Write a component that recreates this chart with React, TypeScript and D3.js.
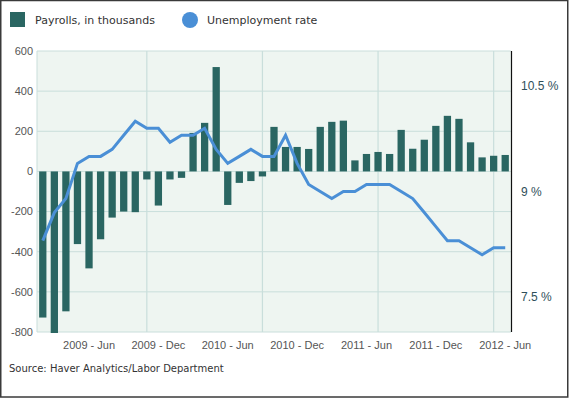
import React from "react";
import * as d3 from "d3";

const months: string[] = [
  "2009-02","2009-03","2009-04","2009-05","2009-06","2009-07","2009-08","2009-09","2009-10","2009-11","2009-12",
  "2010-01","2010-02","2010-03","2010-04","2010-05","2010-06","2010-07","2010-08","2010-09","2010-10","2010-11","2010-12",
  "2011-01","2011-02","2011-03","2011-04","2011-05","2011-06","2011-07","2011-08","2011-09","2011-10","2011-11","2011-12",
  "2012-01","2012-02","2012-03","2012-04","2012-05","2012-06",
];

const payrolls: number[] = [
  -728, -805, -697, -362, -483, -338, -230, -200, -203, -40, -170,
  -40, -32, 192, 242, 520, -167, -57, -48, -25, 222, 122, 122,
  112, 222, 247, 253, 55, 87, 97, 87, 207, 113, 158, 227,
  277, 262, 145, 70, 78, 82,
];

const unemployment: number[] = [
  8.3, 8.7, 8.9, 9.4, 9.5, 9.5, 9.6, 9.8, 10.0, 9.9, 9.9,
  9.7, 9.8, 9.8, 9.9, 9.6, 9.4, 9.5, 9.6, 9.5, 9.5, 9.8, 9.4,
  9.1, 9.0, 8.9, 9.0, 9.0, 9.1, 9.1, 9.1, 9.0, 8.9, 8.7, 8.5,
  8.3, 8.3, 8.2, 8.1, 8.2, 8.2,
];

const leftTicks: number[] = [600, 400, 200, 0, -200, -400, -600, -800];
const rightTicks: number[] = [10.5, 9, 7.5];
const xTickMonths: string[] = ["2009-06", "2009-12", "2010-06", "2010-12", "2011-06", "2011-12", "2012-06"];
const xTickLabels: string[] = ["2009 - Jun", "2009 - Dec", "2010 - Jun", "2010 - Dec", "2011 - Jun", "2011 - Dec", "2012 - Jun"];
const vGridMonths: string[] = ["2009-11", "2010-09", "2011-07", "2012-05"];

const W = 569;
const H = 398;
const plot = { left: 37, right: 511, top: 51, bottom: 332 };

export default function App() {
  const x = d3.scaleBand<string>().domain(months).range([plot.left, plot.right]).paddingInner(0.37).paddingOuter(0.185);
  const xc = (m: string) => (x(m) as number) + x.bandwidth() / 2;
  const yL = d3.scaleLinear().domain([-800, 600]).range([plot.bottom, plot.top]);
  const yR = d3.scaleLinear().domain([7, 11]).range([plot.bottom, plot.top]);
  const line = d3
    .line<number>()
    .x((_, i) => xc(months[i]))
    .y((d) => yR(d));

  const gridColor = "#c9dedb";
  const barColor = "#2a6662";
  const lineColor = "#4a8fd6";
  const sans = "Liberation Sans, Arial, sans-serif";
  const verd = "DejaVu Sans, Verdana, sans-serif";

  return (
    <svg width={W} height={H} style={{ display: "block", position: "absolute", left: 0, top: 0 }}>
      <rect x={0} y={0} width={W} height={H} fill="#fff" />
      <rect x={0.75} y={0.5} width={W - 2} height={H - 1.5} fill="none" stroke="#3a3a3a" strokeWidth={1.5} />

      {/* legend */}
      <rect x={10} y={12} width={15} height={15} fill={barColor} />
      <text x={35} y={24} fontFamily={verd} fontSize={11} fill="#333">Payrolls, in thousands</text>
      <circle cx={190} cy={20} r={8} fill={lineColor} />
      <text x={207} y={24} fontFamily={verd} fontSize={11} fill="#333">Unemployment rate</text>

      {/* plot background */}
      <rect x={plot.left} y={plot.top} width={plot.right - plot.left} height={plot.bottom - plot.top} fill="#eef5f1" />
      {leftTicks.map((t) => (
        <line key={"h" + t} x1={plot.left} x2={plot.right} y1={yL(t)} y2={yL(t)} stroke={gridColor} strokeWidth={1} />
      ))}
      <line x1={plot.left} x2={plot.left} y1={plot.top} y2={plot.bottom} stroke={gridColor} />
      {vGridMonths.map((m) => (
        <line key={"v" + m} x1={xc(m)} x2={xc(m)} y1={plot.top} y2={plot.bottom} stroke={gridColor} strokeWidth={1.2} />
      ))}

      {/* bars */}
      {payrolls.map((v, i) => (
        <rect
          key={"b" + i}
          x={x(months[i])}
          width={x.bandwidth()}
          y={Math.min(yL(v), yL(0))}
          height={Math.abs(yL(v) - yL(0))}
          fill={barColor}
        />
      ))}

      {/* line */}
      <path d={line(unemployment) || ""} fill="none" stroke={lineColor} strokeWidth={3} strokeLinejoin="miter" />

      {/* right axis line */}
      <line x1={plot.right + 0.5} x2={plot.right + 0.5} y1={plot.top} y2={plot.bottom} stroke="#111" strokeWidth={1.2} />

      {/* left ticks */}
      {leftTicks.map((t) => (
        <text key={"lt" + t} x={33} y={yL(t)} dy="0.35em" textAnchor="end" fontFamily={sans} fontSize={11} fill="#555">
          {t}
        </text>
      ))}
      {/* right ticks */}
      {rightTicks.map((t) => (
        <text key={"rt" + t} x={521} y={yR(t)} dy="0.35em" fontFamily={sans} fontSize={12} fill="#2f4f5a">
          {t} %
        </text>
      ))}
      {/* x ticks */}
      {xTickMonths.map((m, i) => (
        <text key={"xt" + m} x={xc(m)} y={345} dy="0.35em" textAnchor="middle" fontFamily={sans} fontSize={11} fill="#555">
          {xTickLabels[i]}
        </text>
      ))}

      <text x={9} y={372} fontFamily={verd} fontSize={10} fill="#333">Source: Haver Analytics/Labor Department</text>
    </svg>
  );
}
